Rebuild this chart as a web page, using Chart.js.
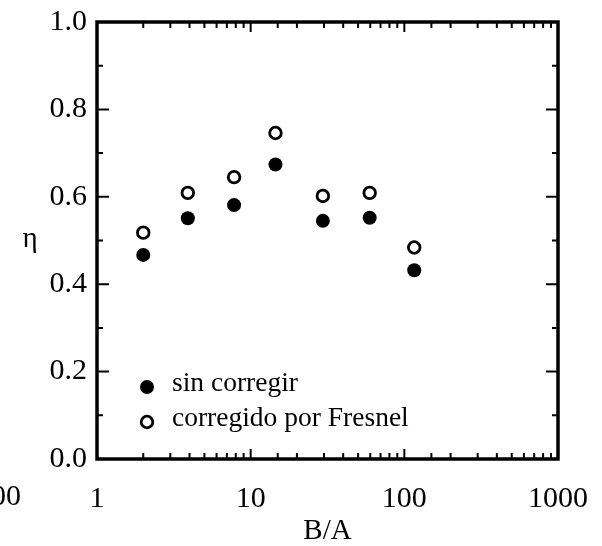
<!DOCTYPE html>
<html>
<head>
<meta charset="utf-8">
<script src="https://cdn.jsdelivr.net/npm/chart.js@4.4.1/dist/chart.umd.min.js"></script>
<style>
  html, body { margin: 0; padding: 0; background: #fff; overflow: hidden; }
  canvas { display: block; }
</style>
</head>
<body>
<canvas id="scatterChart" width="602" height="546"></canvas>
<script>
// B/A ratio for each measurement
var ratios = [2, 3.9, 7.8, 14.5, 29.5, 59.5, 116];
// efficiency, raw and Fresnel-corrected
var etaRaw = [0.467, 0.551, 0.581, 0.674, 0.545, 0.552, 0.432];
var etaFresnel = [0.518, 0.609, 0.645, 0.746, 0.602, 0.609, 0.484];
var seriesNames = ["sin corregir", "corregido por Fresnel"];
var xTickLabels = [1, 10, 100, 1000];

var serif = "'Liberation Serif', 'DejaVu Serif', serif";

function toPoints(xs, ys) {
    return xs.map(function (x, i) { return { x: x, y: ys[i] }; });
}

// frame, inward ticks, legend and loose text
var framePlugin = {
    id: "frame",
    afterDraw: function (chart) {
        var c = chart.ctx, a = chart.chartArea;
        var xs = chart.scales.x, ys = chart.scales.y;
        c.save();
        c.strokeStyle = "#000";
        c.lineCap = "butt";

        // x ticks on bottom and top
        c.lineWidth = 2;
        xs.ticks.forEach(function (t) {
            var v = t.value;
            if (v <= xs.min || v >= xs.max) return;
            var px = xs.getPixelForValue(v);
            var major = xTickLabels.indexOf(v) >= 0;
            var len = major ? 10 : 6;
            c.beginPath();
            c.moveTo(px, a.bottom); c.lineTo(px, a.bottom - len);
            c.moveTo(px, a.top); c.lineTo(px, a.top + len);
            c.stroke();
        });

        // y ticks on left and right, every 0.1
        for (var k = 1; k < 10; k++) {
            var py = ys.getPixelForValue(k / 10);
            var len = (k % 2 === 0) ? 12 : 6;
            c.beginPath();
            c.moveTo(a.left, py); c.lineTo(a.left + len, py);
            c.moveTo(a.right, py); c.lineTo(a.right - len, py);
            c.stroke();
        }

        // frame
        c.lineWidth = 3.5;
        c.strokeRect(a.left, a.top, a.right - a.left, a.bottom - a.top);

        // legend inside the plot
        var rows = [387, 422];
        c.font = "27.5px " + serif;
        c.textBaseline = "middle";
        c.textAlign = "left";
        chart.data.datasets.forEach(function (ds, i) {
            var cx = 147, cy = rows[i];
            c.beginPath();
            c.arc(cx, cy, ds.pointRadius, 0, Math.PI * 2);
            c.fillStyle = ds.pointBackgroundColor;
            c.fill();
            if (ds.pointBorderWidth > 0) {
                c.lineWidth = ds.pointBorderWidth;
                c.strokeStyle = ds.pointBorderColor;
                c.stroke();
            }
            c.fillStyle = "#000";
            c.fillText(ds.label, 172, cy - 3);
        });

        // y axis symbol, upright
        c.fillStyle = "#000";
        c.font = "29px " + serif;
        c.textAlign = "center";
        c.textBaseline = "alphabetic";
        c.fillText("\u03b7", 30, 247);

        // fragment of a neighbouring label at the left edge
        c.font = "30px " + serif;
        c.textAlign = "right";
        c.fillText("00", 21, 505);
        c.restore();
    }
};

var ctx1 = document.getElementById("scatterChart").getContext("2d"),
    myChart = new Chart(ctx1, {
        type: "scatter",
        data: {
            datasets: [
                {
                    label: seriesNames[0],
                    data: toPoints(ratios, etaRaw),
                    pointRadius: 7,
                    pointBackgroundColor: "#000",
                    pointBorderColor: "#000",
                    pointBorderWidth: 0,
                    pointHoverRadius: 7,
                },
                {
                    label: seriesNames[1],
                    data: toPoints(ratios, etaFresnel),
                    pointRadius: 5.8,
                    pointBackgroundColor: "#fff",
                    pointBorderColor: "#000",
                    pointBorderWidth: 2.8,
                    pointHoverRadius: 5.8,
                },
            ],
        },
        options: {
            responsive: !1,
            animation: !1,
            devicePixelRatio: 1,
            layout: { padding: { top: 22, right: 44, bottom: 0, left: 0 } },
            plugins: { legend: { display: !1 }, tooltip: { enabled: !1 } },
            scales: {
                x: {
                    type: "logarithmic",
                    min: 1,
                    max: 1000,
                    afterFit: function (s) {
                        s.height = 87;
                        s.paddingLeft = 0;
                        s.paddingRight = 0;
                    },
                    border: { display: !1 },
                    grid: { display: !1, drawTicks: !1 },
                    ticks: {
                        autoSkip: !1,
                        maxRotation: 0,
                        padding: 22,
                        color: "#000",
                        font: { family: serif, size: 30 },
                        callback: function (v) {
                            return xTickLabels.indexOf(v) >= 0 ? String(v) : "";
                        },
                    },
                    title: {
                        display: !0,
                        text: "B/A",
                        color: "#000",
                        font: { family: serif, size: 29, lineHeight: 1.0 },
                        padding: { top: 0, bottom: 0 },
                    },
                },
                y: {
                    min: 0,
                    max: 1,
                    afterFit: function (s) {
                        s.width = 97;
                        s.paddingTop = 0;
                        s.paddingBottom = 0;
                    },
                    border: { display: !1 },
                    grid: { display: !1, drawTicks: !1 },
                    ticks: {
                        stepSize: 0.2,
                        padding: 10,
                        color: "#000",
                        font: { family: serif, size: 30 },
                        callback: function (v) { return v.toFixed(1); },
                    },
                },
            },
        },
        plugins: [framePlugin],
    });
</script>
</body>
</html>
